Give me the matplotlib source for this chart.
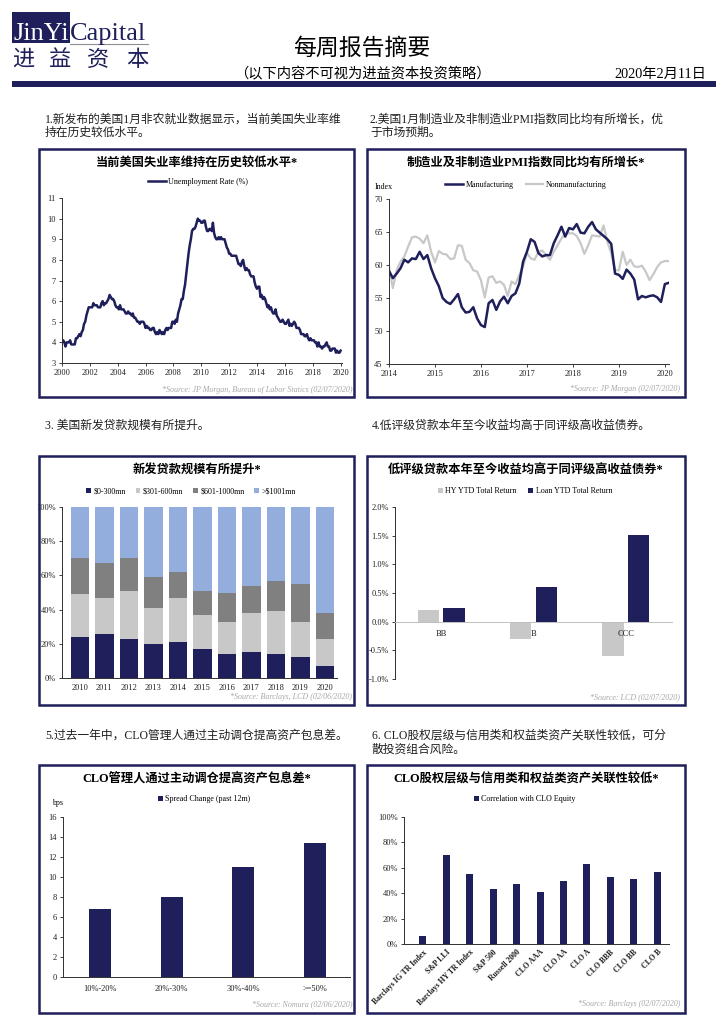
import matplotlib
matplotlib.use('Agg')
import matplotlib.pyplot as plt
import numpy as np
from matplotlib.patches import Rectangle, Patch
from matplotlib.lines import Line2D

plt.rcParams['font.family'] = ['Liberation Serif', 'Noto Sans CJK SC']
plt.rcParams['axes.linewidth'] = 0.7

NAVY = '#1f1f5c'
LGREY = '#c8c8c8'
DGREY = '#808080'
LBLUE = '#93aedd'
SRC = '#a8a8a8'
W, H = 724, 1024

# ---- data ----
# US unemployment rate, monthly Jan 2000 - Jan 2020
unemp = [4.0, 4.1, 4.0, 3.8, 4.0, 4.0, 4.0, 4.1, 3.9, 3.9, 3.9, 3.9,
         4.2, 4.2, 4.3, 4.4, 4.3, 4.5, 4.6, 4.9, 5.0, 5.3, 5.5, 5.7,
         5.7, 5.7, 5.7, 5.9, 5.8, 5.8, 5.8, 5.7, 5.7, 5.7, 5.9, 6.0,
         5.8, 5.9, 5.9, 6.0, 6.1, 6.3, 6.2, 6.1, 6.1, 6.0, 5.8, 5.7,
         5.7, 5.6, 5.8, 5.6, 5.6, 5.6, 5.5, 5.4, 5.4, 5.5, 5.4, 5.4,
         5.3, 5.4, 5.2, 5.2, 5.1, 5.0, 5.0, 4.9, 5.0, 5.0, 5.0, 4.9,
         4.7, 4.8, 4.7, 4.7, 4.6, 4.6, 4.7, 4.7, 4.5, 4.4, 4.5, 4.4,
         4.6, 4.5, 4.4, 4.5, 4.4, 4.6, 4.7, 4.6, 4.7, 4.7, 4.7, 5.0,
         5.0, 4.9, 5.1, 5.0, 5.4, 5.6, 5.8, 6.1, 6.1, 6.5, 6.8, 7.3,
         7.8, 8.3, 8.7, 9.0, 9.4, 9.5, 9.5, 9.6, 9.8, 10.0, 9.9, 9.9,
         9.8, 9.8, 9.9, 9.9, 9.6, 9.4, 9.4, 9.5, 9.5, 9.4, 9.8, 9.3,
         9.1, 9.0, 9.0, 9.1, 9.0, 9.1, 9.0, 9.0, 9.0, 8.8, 8.6, 8.5,
         8.3, 8.3, 8.2, 8.2, 8.2, 8.2, 8.2, 8.0, 7.8, 7.8, 7.7, 7.9,
         8.0, 7.7, 7.5, 7.6, 7.5, 7.5, 7.3, 7.2, 7.2, 7.2, 6.9, 6.7,
         6.6, 6.7, 6.7, 6.2, 6.3, 6.1, 6.2, 6.1, 5.9, 5.7, 5.8, 5.6,
         5.7, 5.5, 5.4, 5.4, 5.6, 5.3, 5.2, 5.1, 5.0, 5.0, 5.1, 5.0,
         4.9, 4.9, 5.0, 5.1, 4.8, 4.9, 4.8, 4.9, 5.0, 4.9, 4.7, 4.7,
         4.7, 4.6, 4.4, 4.4, 4.4, 4.3, 4.3, 4.4, 4.2, 4.1, 4.2, 4.1,
         4.1, 4.1, 4.0, 4.0, 3.8, 4.0, 3.8, 3.8, 3.7, 3.8, 3.8, 3.9,
         4.0, 3.8, 3.8, 3.6, 3.6, 3.7, 3.7, 3.7, 3.5, 3.6, 3.5, 3.5,
         3.6]

# PMI, monthly from Jan 2014
manuf = [59.1, 58.0, 58.7, 59.5, 60.8, 60.4, 61.0, 60.9, 62.0, 60.9, 61.5, 59.5,
         58.0, 56.8, 55.0, 54.4, 54.1, 54.8, 55.6, 53.6, 52.8, 52.9, 53.6, 51.9,
         50.9, 50.6, 54.2, 54.7, 53.2, 54.5, 55.2, 54.2, 55.3, 55.7, 57.2, 60.5,
         62.0, 63.9, 63.5, 61.8, 61.3, 61.5, 61.5, 63.3, 64.5, 65.8, 64.3, 65.6,
         65.4, 66.2, 64.9, 64.8, 65.8, 66.5, 65.4, 64.9, 64.4, 63.9, 63.2, 58.7,
         58.5, 57.9, 59.3, 58.7, 57.8, 54.8, 55.3, 55.1, 55.3, 55.4, 55.1, 54.4,
         57.1, 57.3]
nonmanuf = [59.7, 56.5, 59.2, 60.5, 61.3, 62.8, 64.2, 64.3, 64.0, 63.3, 64.5, 62.0,
            60.4, 62.1, 61.7, 61.6, 60.9, 61.0, 63.0, 62.9, 60.8, 60.3, 59.2, 59.0,
            57.7, 55.1, 58.1, 58.3, 57.3, 57.5, 57.0, 55.3, 57.5, 57.1, 58.5, 59.8,
            61.8, 61.0, 60.8, 62.0, 62.2, 61.5, 60.8, 62.0, 63.0, 64.0, 64.7, 64.8,
            64.8, 64.4, 63.3, 61.7, 63.0, 64.5, 64.4, 64.3, 66.0, 63.5, 61.8, 59.2,
            59.2, 62.0, 60.0, 60.8, 59.8, 59.7, 59.9, 59.0, 57.7, 58.6, 59.7, 60.4,
            60.6, 60.6]

# new issue loan size mix (%)
years = ['2010', '2011', '2012', '2013', '2014', '2015', '2016', '2017', '2018', '2019', '2020']
size_0_300 = [24, 26, 23, 20, 21, 17, 14, 15, 14, 12, 7]
size_301_600 = [25, 21, 28, 21, 26, 20, 19, 23, 25, 21, 16]
size_601_1000 = [21, 20, 19, 18, 15, 14, 17, 16, 18, 22, 15]
size_1001 = [30, 33, 30, 41, 38, 49, 50, 46, 43, 45, 62]

# YTD total return (%)
ratings = ['BB', 'B', 'CCC']
hy_ytd = [0.20, -0.30, -0.60]
loan_ytd = [0.24, 0.61, 1.51]

# CLO spread change (bps)
buckets = ['10%-20%', '20%-30%', '30%-40%', '>=50%']
spread_chg = [6.8, 8.0, 11.0, 13.4]

# correlation with CLO equity (%)
assets = ['Barclays IG TR Index', 'S&P LLI', 'Barclays HY TR Index', 'S&P 500',
          'Russell 2000', 'CLO AAA', 'CLO AA', 'CLO A', 'CLO BBB', 'CLO BB', 'CLO B']
corr = [6, 70, 55, 43, 47, 41, 50, 63, 53, 51, 57]

fig = plt.figure(figsize=(7.24, 10.24), dpi=100)


def ftext(x, y, s, **kw):
    return fig.text(x / W, 1 - y / H, s, **kw)


def axes_px(x0, y0, x1, y1):
    return fig.add_axes([x0 / W, 1 - y1 / H, (x1 - x0) / W, (y1 - y0) / H])


def box_px(x0, y0, x1, y1):
    fig.patches.append(Rectangle((x0 / W, 1 - y1 / H), (x1 - x0) / W, (y1 - y0) / H,
                                 transform=fig.transFigure, fill=False, ec=NAVY, lw=1.8))


def style(ax):
    for s in ['top', 'right']:
        ax.spines[s].set_visible(False)
    for s in ['left', 'bottom']:
        ax.spines[s].set_color('#303030')
    ax.tick_params(labelsize=6.0, length=2.5, width=0.6, colors='#202020', pad=2)


def legend(ax, handles, labels, cx, cy, **kw):
    ax.legend(handles, labels, loc='center', bbox_to_anchor=(cx / W, 1 - cy / H),
              bbox_transform=fig.transFigure, frameon=False, fontsize=5.8,
              ncol=len(labels), borderaxespad=0, handletextpad=0.3, **kw)


def sq(c):
    return Patch(facecolor=c, edgecolor='none')


# ---- header ----
fig.patches.append(Rectangle((12 / W, 1 - 43 / H), 58 / W, 31 / H,
                             transform=fig.transFigure, fc=NAVY, ec='none'))
ftext(13, 40, 'JinYi', fontsize=19, color='white', va='baseline')
ftext(70, 40, 'Capital', fontsize=19, color=NAVY, va='baseline')
fig.lines.append(Line2D([70 / W, 148 / W], [1 - 44 / H, 1 - 44 / H],
                        transform=fig.transFigure, color='#909090', lw=0.8))
for x, ch in zip([23, 60, 98, 137], ['进', '益', '资', '本']):
    ftext(x, 61, ch, fontsize=16, color=NAVY, ha='center', va='center')
ftext(362, 49, '每周报告摘要', fontsize=16.5, ha='center', va='center')
ftext(362, 74, '（以下内容不可视为进益资本投资策略）', fontsize=10.3, ha='center', va='center')
ftext(706, 74, '2020年2月11日', fontsize=10.3, ha='right', va='center')
fig.patches.append(Rectangle((12 / W, 1 - 87 / H), 704 / W, 6 / H,
                             transform=fig.transFigure, fc=NAVY, ec='none'))

# ---- captions ----
cap = dict(fontsize=8.5, va='center', ha='left', color='#202020')
ftext(45, 120, '1.新发布的美国1月非农就业数据显示，当前美国失业率维', **cap)
ftext(45, 133, '持在历史较低水平。', **cap)
ftext(370, 120, '2.美国1月制造业及非制造业PMI指数同比均有所增长，优', **cap)
ftext(370, 133, '于市场预期。', **cap)
ftext(45, 426, '3. 美国新发贷款规模有所提升。', **cap)
ftext(372, 426, '4.低评级贷款本年至今收益均高于同评级高收益债券。', **cap)
ftext(45, 736, '5.过去一年中，CLO管理人通过主动调仓提高资产包息差。', **cap)
ftext(372, 736, '6. CLO股权层级与信用类和权益类资产关联性较低，可分', **cap)
ftext(372, 750, '散投资组合风险。', **cap)

# ---- boxes, titles, sources ----
boxes = [(39, 149, 354, 397), (367, 149, 685, 397),
         (39, 456, 354, 705), (367, 456, 685, 705),
         (39, 765, 354, 1013), (367, 765, 685, 1013)]
for b in boxes:
    box_px(*b)

ttl = dict(fontsize=8.8, fontweight='bold', ha='center', va='center')
ftext(197, 163, '当前美国失业率维持在历史较低水平*', **ttl)
ftext(526, 163, '制造业及非制造业PMI指数同比均有所增长*', **ttl)
ftext(197, 470, '新发贷款规模有所提升*', **ttl)
ftext(526, 470, '低评级贷款本年至今收益均高于同评级高收益债券*', **ttl)
ftext(197, 779, 'CLO管理人通过主动调仓提高资产包息差*', **ttl)
ftext(526, 779, 'CLO股权层级与信用类和权益类资产关联性较低*', **ttl)

src = dict(fontsize=5.8, style='italic', color=SRC, ha='right', va='center')
ftext(352, 390, '*Source: JP Morgan, Bureau of Labor Statics (02/07/2020)', **src)
ftext(680, 389, '*Source: JP Morgan (02/07/2020)', **src)
ftext(352, 697, '*Source: Barclays, LCD (02/06/2020)', **src)
ftext(680, 697, '*Source: LCD (02/07/2020)', **src)
ftext(352, 1004, '*Source: Nomura (02/06/2020)', **src)
ftext(680, 1004, '*Source: Barclays (02/07/2020)', **src)

# ---- chart 1: unemployment ----
ax1 = axes_px(62, 198, 342, 363)
style(ax1)
t1 = 2000 + np.arange(len(unemp)) / 12
ax1.plot(t1, unemp, color=NAVY, lw=1.8)
ax1.set_xlim(2000, 2020.1)
ax1.set_ylim(3, 11)
ax1.set_xticks(range(2000, 2021, 2))
ax1.set_yticks(range(3, 12))
legend(ax1, [Line2D([], [], color=NAVY, lw=1.8)], ['Unemployment Rate (%)'], 198, 182,
       handlelength=2.2)

# ---- chart 2: PMI ----
ax2 = axes_px(389, 199, 669, 364)
style(ax2)
t2 = 2014 + np.arange(len(manuf)) / 12
ax2.plot(t2, nonmanuf, color=LGREY, lw=1.6)
ax2.plot(t2, manuf, color=NAVY, lw=1.8)
ax2.set_xlim(2014, 2020.09)
ax2.set_ylim(45, 70)
ax2.set_xticks(range(2014, 2021))
ax2.set_yticks(range(45, 71, 5))
ftext(375, 187, 'Index', fontsize=5.8, va='center')
legend(ax2, [Line2D([], [], color=NAVY, lw=1.8), Line2D([], [], color=LGREY, lw=1.6)],
       ['Manufacturing', 'Nonmanufacturing'], 526, 185, handlelength=2.2, columnspacing=1.5)

# ---- chart 3: stacked loan sizes ----
ax3 = axes_px(62, 507, 337, 678)
style(ax3)
x3 = np.arange(len(years))
bottom = np.zeros(len(years))
for vals, c in [(size_0_300, NAVY), (size_301_600, LGREY), (size_601_1000, DGREY), (size_1001, LBLUE)]:
    ax3.bar(x3, vals, 0.76, bottom=bottom, color=c)
    bottom += np.array(vals)
ax3.set_xlim(-0.73, 10.49)
ax3.set_ylim(0, 100)
ax3.set_xticks(x3)
ax3.set_xticklabels(years)
ax3.tick_params(axis='x', length=0, pad=4)
ax3.set_yticks(range(0, 101, 20))
ax3.set_yticklabels(['%d%%' % v for v in range(0, 101, 20)])
legend(ax3, [sq(NAVY), sq(LGREY), sq(DGREY), sq(LBLUE)],
       ['$0-300mn', '$301-600mn', '$601-1000mn', '>$1001mn'], 191, 491,
       handlelength=0.6, handleheight=0.6, columnspacing=1.2)

# ---- chart 4: YTD returns ----
ax4 = axes_px(395, 507, 672, 679)
style(ax4)
x4 = np.arange(len(ratings))
ax4.bar(x4 - 0.14, hy_ytd, 0.23, color=LGREY)
ax4.bar(x4 + 0.14, loan_ytd, 0.23, color=NAVY)
ax4.set_xlim(-0.5, 2.5)
ax4.set_ylim(-1.0, 2.0)
ax4.spines['bottom'].set_position(('data', 0))
ax4.spines['bottom'].set_color('#c0c0c0')
ax4.set_xticks(x4)
ax4.set_xticklabels(ratings)
ax4.tick_params(axis='x', length=0, pad=6)
yt4 = np.arange(-1.0, 2.01, 0.5)
ax4.set_yticks(yt4)
ax4.set_yticklabels(['%.1f%%' % v for v in yt4])
legend(ax4, [sq(LGREY), sq(NAVY)], ['HY YTD Total Return', 'Loan YTD Total Return'], 525, 491,
       handlelength=0.6, handleheight=0.6, columnspacing=1.5)

# ---- chart 5: spread change ----
ax5 = axes_px(63, 817, 350, 977)
style(ax5)
x5 = np.arange(len(buckets))
ax5.bar(x5, spread_chg, 0.31, color=NAVY)
ax5.set_xlim(-0.52, 3.49)
ax5.set_ylim(0, 16)
ax5.set_xticks(x5)
ax5.set_xticklabels(buckets)
ax5.tick_params(axis='x', length=0, pad=6)
ax5.set_yticks(range(0, 17, 2))
ftext(52, 803, 'bps', fontsize=5.8, va='center')
legend(ax5, [sq(NAVY)], ['Spread Change (past 12m)'], 204, 799,
       handlelength=0.6, handleheight=0.6)

# ---- chart 6: correlation ----
ax6 = axes_px(404, 817, 669, 944)
style(ax6)
x6 = np.arange(len(assets))
ax6.bar(x6, corr, 0.3, color=NAVY)
ax6.set_xlim(-0.8, 10.5)
ax6.set_ylim(0, 100)
ax6.set_xticks(x6)
ax6.set_xticklabels(assets, rotation=45, ha='right', rotation_mode='anchor',
                    fontweight='bold', fontsize=5.6)
ax6.tick_params(axis='x', length=0, pad=3)
ax6.set_yticks(range(0, 101, 20))
ax6.set_yticklabels(['%d%%' % v for v in range(0, 101, 20)])
legend(ax6, [sq(NAVY)], ['Correlation with CLO Equity'], 525, 799,
       handlelength=0.6, handleheight=0.6)

fig.savefig('out.png', dpi=100)
